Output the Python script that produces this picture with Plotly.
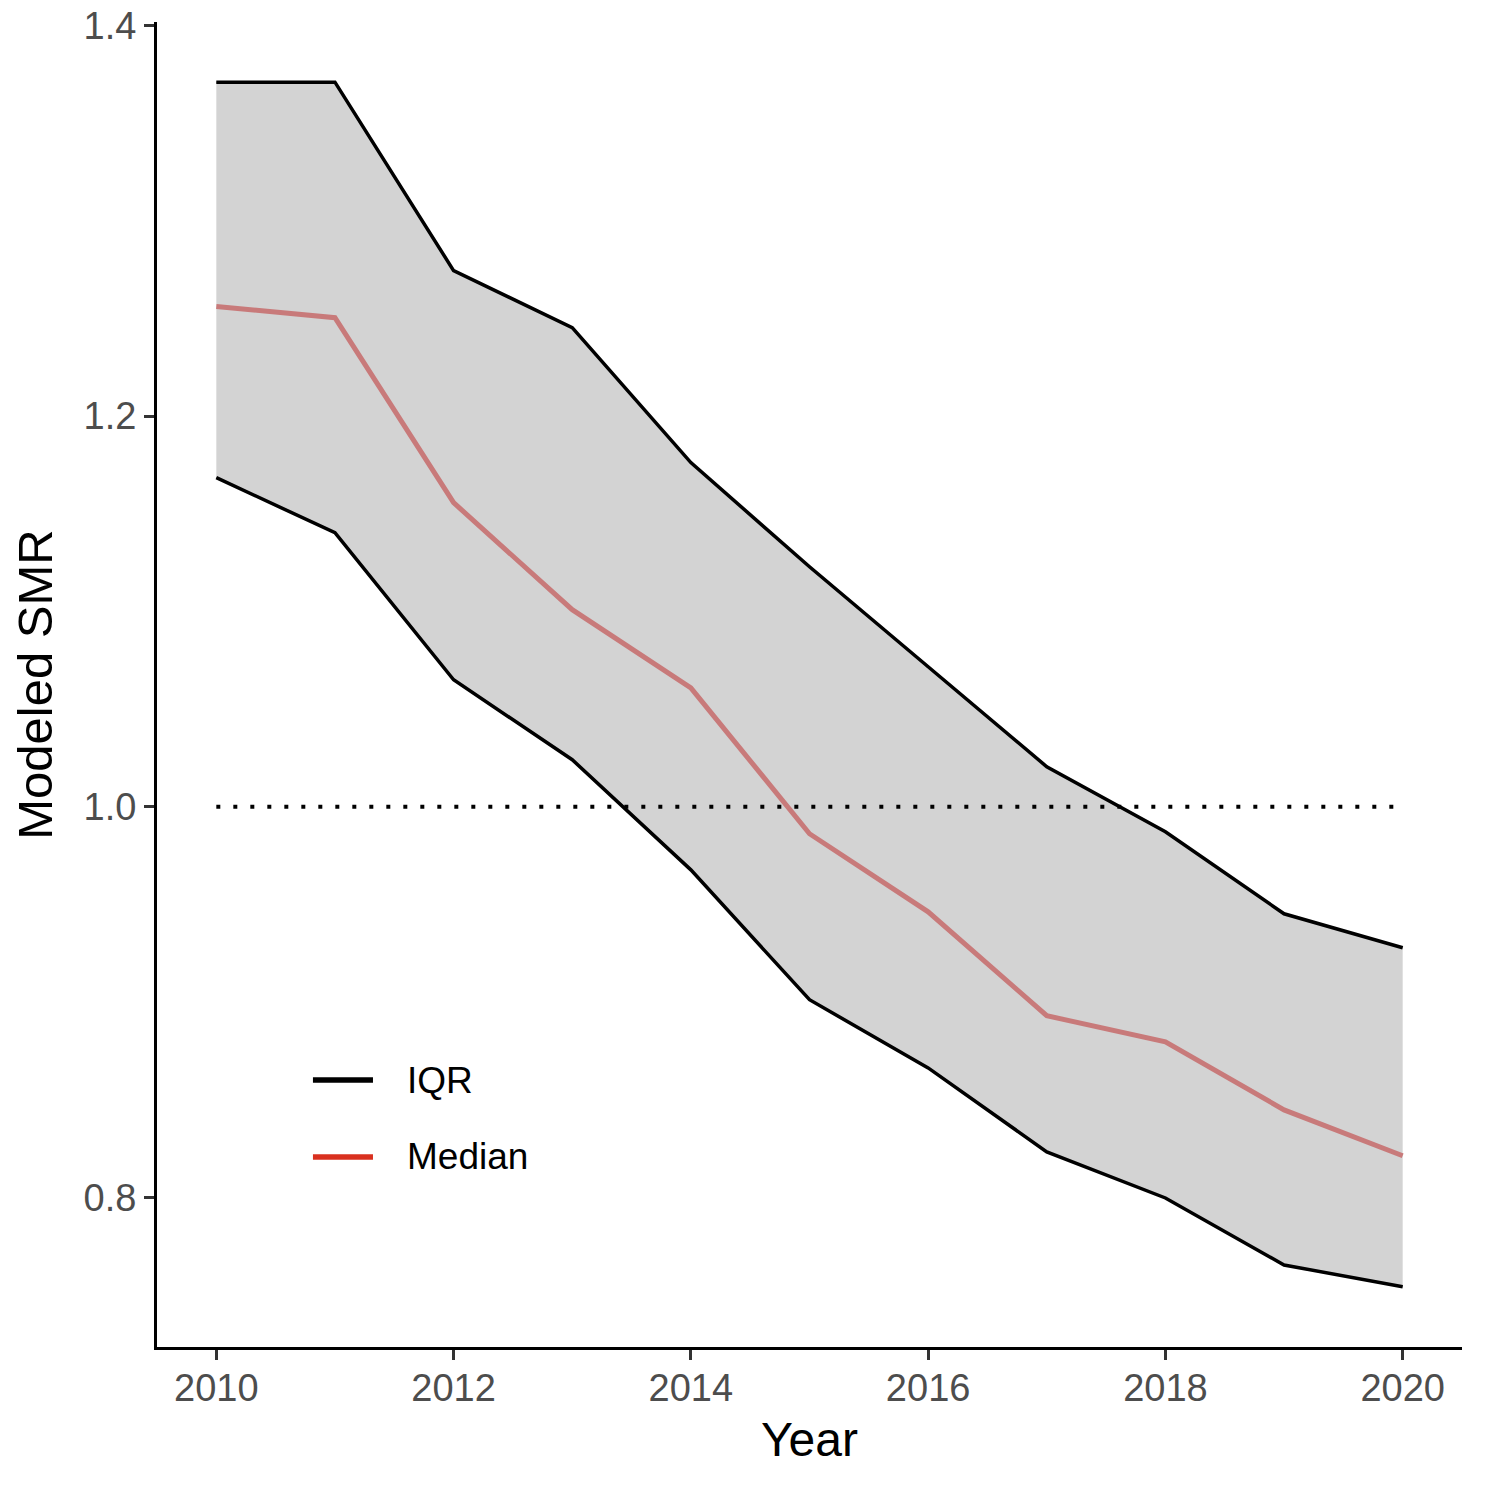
import plotly.graph_objects as go

years = [2010, 2011, 2012, 2013, 2014, 2015, 2016, 2017, 2018, 2019, 2020]
iqr_upper = [1.371, 1.371, 1.2745, 1.2453, 1.1762, 1.1229, 1.0717, 1.0205, 0.9872, 0.9452, 0.9278]
iqr_lower = [1.1685, 1.1403, 1.065, 1.0241, 0.9677, 0.9012, 0.8663, 0.8233, 0.7997, 0.7654, 0.7542]
median = [1.2561, 1.2504, 1.1557, 1.1009, 1.0609, 0.9862, 0.9462, 0.8930, 0.8796, 0.8448, 0.8213]
ref_level = 1.0
x_ticks = [2010, 2012, 2014, 2016, 2018, 2020]
y_ticks = [0.8, 1.0, 1.2, 1.4]
y_ticklabels = ["0.8", "1.0", "1.2", "1.4"]

FONT = "Liberation Sans, Arial, sans-serif"

fig = go.Figure()

# ribbon
fig.add_trace(go.Scatter(x=years, y=iqr_upper, mode="lines",
                         line=dict(color="#8c8c8c", width=1), showlegend=False, hoverinfo="skip"))
fig.add_trace(go.Scatter(x=years, y=iqr_lower, mode="lines", fill="tonexty",
                         fillcolor="#d3d3d3", line=dict(color="#8c8c8c", width=1),
                         showlegend=False, hoverinfo="skip"))

# reference line
fig.add_trace(go.Scatter(x=[years[0], years[-1]], y=[ref_level, ref_level], mode="lines",
                         line=dict(color="black", width=4, dash="4px,13px"), showlegend=False))

# IQR lines
fig.add_trace(go.Scatter(x=years, y=iqr_upper, mode="lines",
                         line=dict(color="black", width=3.5), showlegend=False))
fig.add_trace(go.Scatter(x=years, y=iqr_lower, mode="lines",
                         line=dict(color="black", width=3.5), showlegend=False))

# median
fig.add_trace(go.Scatter(x=years, y=median, mode="lines",
                         line=dict(color="rgb(200,122,122)", width=5), showlegend=False))

# manual legend
leg_items = [("IQR", "black", 0.2015), ("Median", "#d9301f", 0.1434)]
for label, col, yy in leg_items:
    fig.add_shape(type="line", xref="paper", yref="paper", x0=0.1195, x1=0.1655, y0=yy, y1=yy,
                  line=dict(color=col, width=5.5))
    fig.add_annotation(xref="paper", yref="paper", x=0.19, y=yy, text=label, showarrow=False,
                       xanchor="left", yanchor="middle", font=dict(family=FONT, size=37, color="black"))

fig.update_layout(
    width=1488, height=1488,
    margin=dict(l=157, r=26, t=22, b=141),
    plot_bgcolor="white", paper_bgcolor="white",
    font=dict(family=FONT),
    showlegend=False,
)
fig.update_xaxes(
    range=[2009.5, 2020.5], tickvals=x_ticks, ticktext=[str(t) for t in x_ticks],
    showgrid=False, zeroline=False, showline=True, linecolor="black", linewidth=3,
    ticks="outside", ticklen=10, tickwidth=2.5, tickcolor="#333333",
    ticklabelstandoff=-5, ticklabeloverflow="allow", automargin=False,
    tickfont=dict(family=FONT, size=38, color="#4d4d4d"),
    title=dict(text="Year", font=dict(family=FONT, size=48, color="black"), standoff=15),
)
fig.update_yaxes(
    range=[0.7234, 1.4018], tickvals=y_ticks, ticktext=y_ticklabels,
    showgrid=False, zeroline=False, showline=True, linecolor="black", linewidth=3,
    ticks="outside", ticklen=10, tickwidth=2.5, tickcolor="#333333",
    ticklabeloverflow="allow", automargin=False,
    tickfont=dict(family=FONT, size=38, color="#4d4d4d"),
    title=dict(text="Modeled SMR", font=dict(family=FONT, size=49, color="black"), standoff=16),
)

fig.write_html("out.html", config={"displayModeBar": False},
               post_script="document.body.style.margin='0';document.body.style.overflow='hidden';")
